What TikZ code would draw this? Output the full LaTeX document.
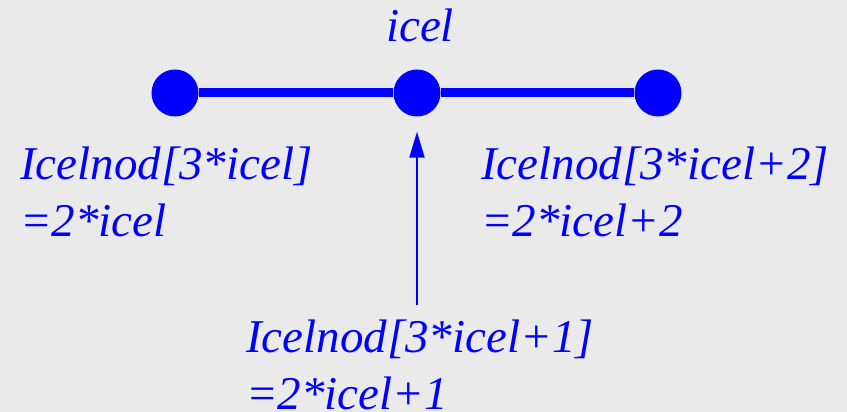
\documentclass[tikz,border=0pt]{standalone}
\usepackage{fontspec}
\setmainfont{Liberation Serif}
\usetikzlibrary{arrows.meta}
\definecolor{bggray}{RGB}{234,234,234}
\tikzset{
  dot/.style={circle, fill=blue, minimum size=47pt, inner sep=0pt},
  lbl/.style={text=blue, font=\fontsize{47}{57}\selectfont\itshape, inner sep=0pt, anchor=base west}
}

\begin{document}
\begin{tikzpicture}[x=1pt,y=1pt]
  \fill[bggray] (0,0) rectangle (847,412);
  \useasboundingbox (0,0) rectangle (847,412);

  \node[dot] (nl) at (175,319) {};
  \node[dot] (nm) at (417,319) {};
  \node[dot] (nr) at (658,319) {};
  \draw[blue, line width=9pt] (nl) -- (nm) -- (nr);

  \node[lbl, anchor=base] (top) at (420,370) {icel};

  \node[lbl] (l1) at (20,232) {Icelnod[3*icel]};
  \node[lbl] (l2) at ([yshift=-57pt]l1.base west) {=2*icel};
  \node[lbl] (r1) at (481,232) {Icelnod[3*icel+2]};
  \node[lbl] (r2) at ([yshift=-57pt]r1.base west) {=2*icel+2};
  \node[lbl] (b1) at (246,59) {Icelnod[3*icel+1]};
  \node[lbl] (b2) at ([yshift=-57pt]b1.base west) {=2*icel+1};

  \coordinate (tail) at (417,107);
  \draw[blue, line width=2pt, -{Triangle[length=26pt,width=15pt]}] (tail) -- ([yshift=-15pt]nm.south);
\end{tikzpicture}
\end{document}
